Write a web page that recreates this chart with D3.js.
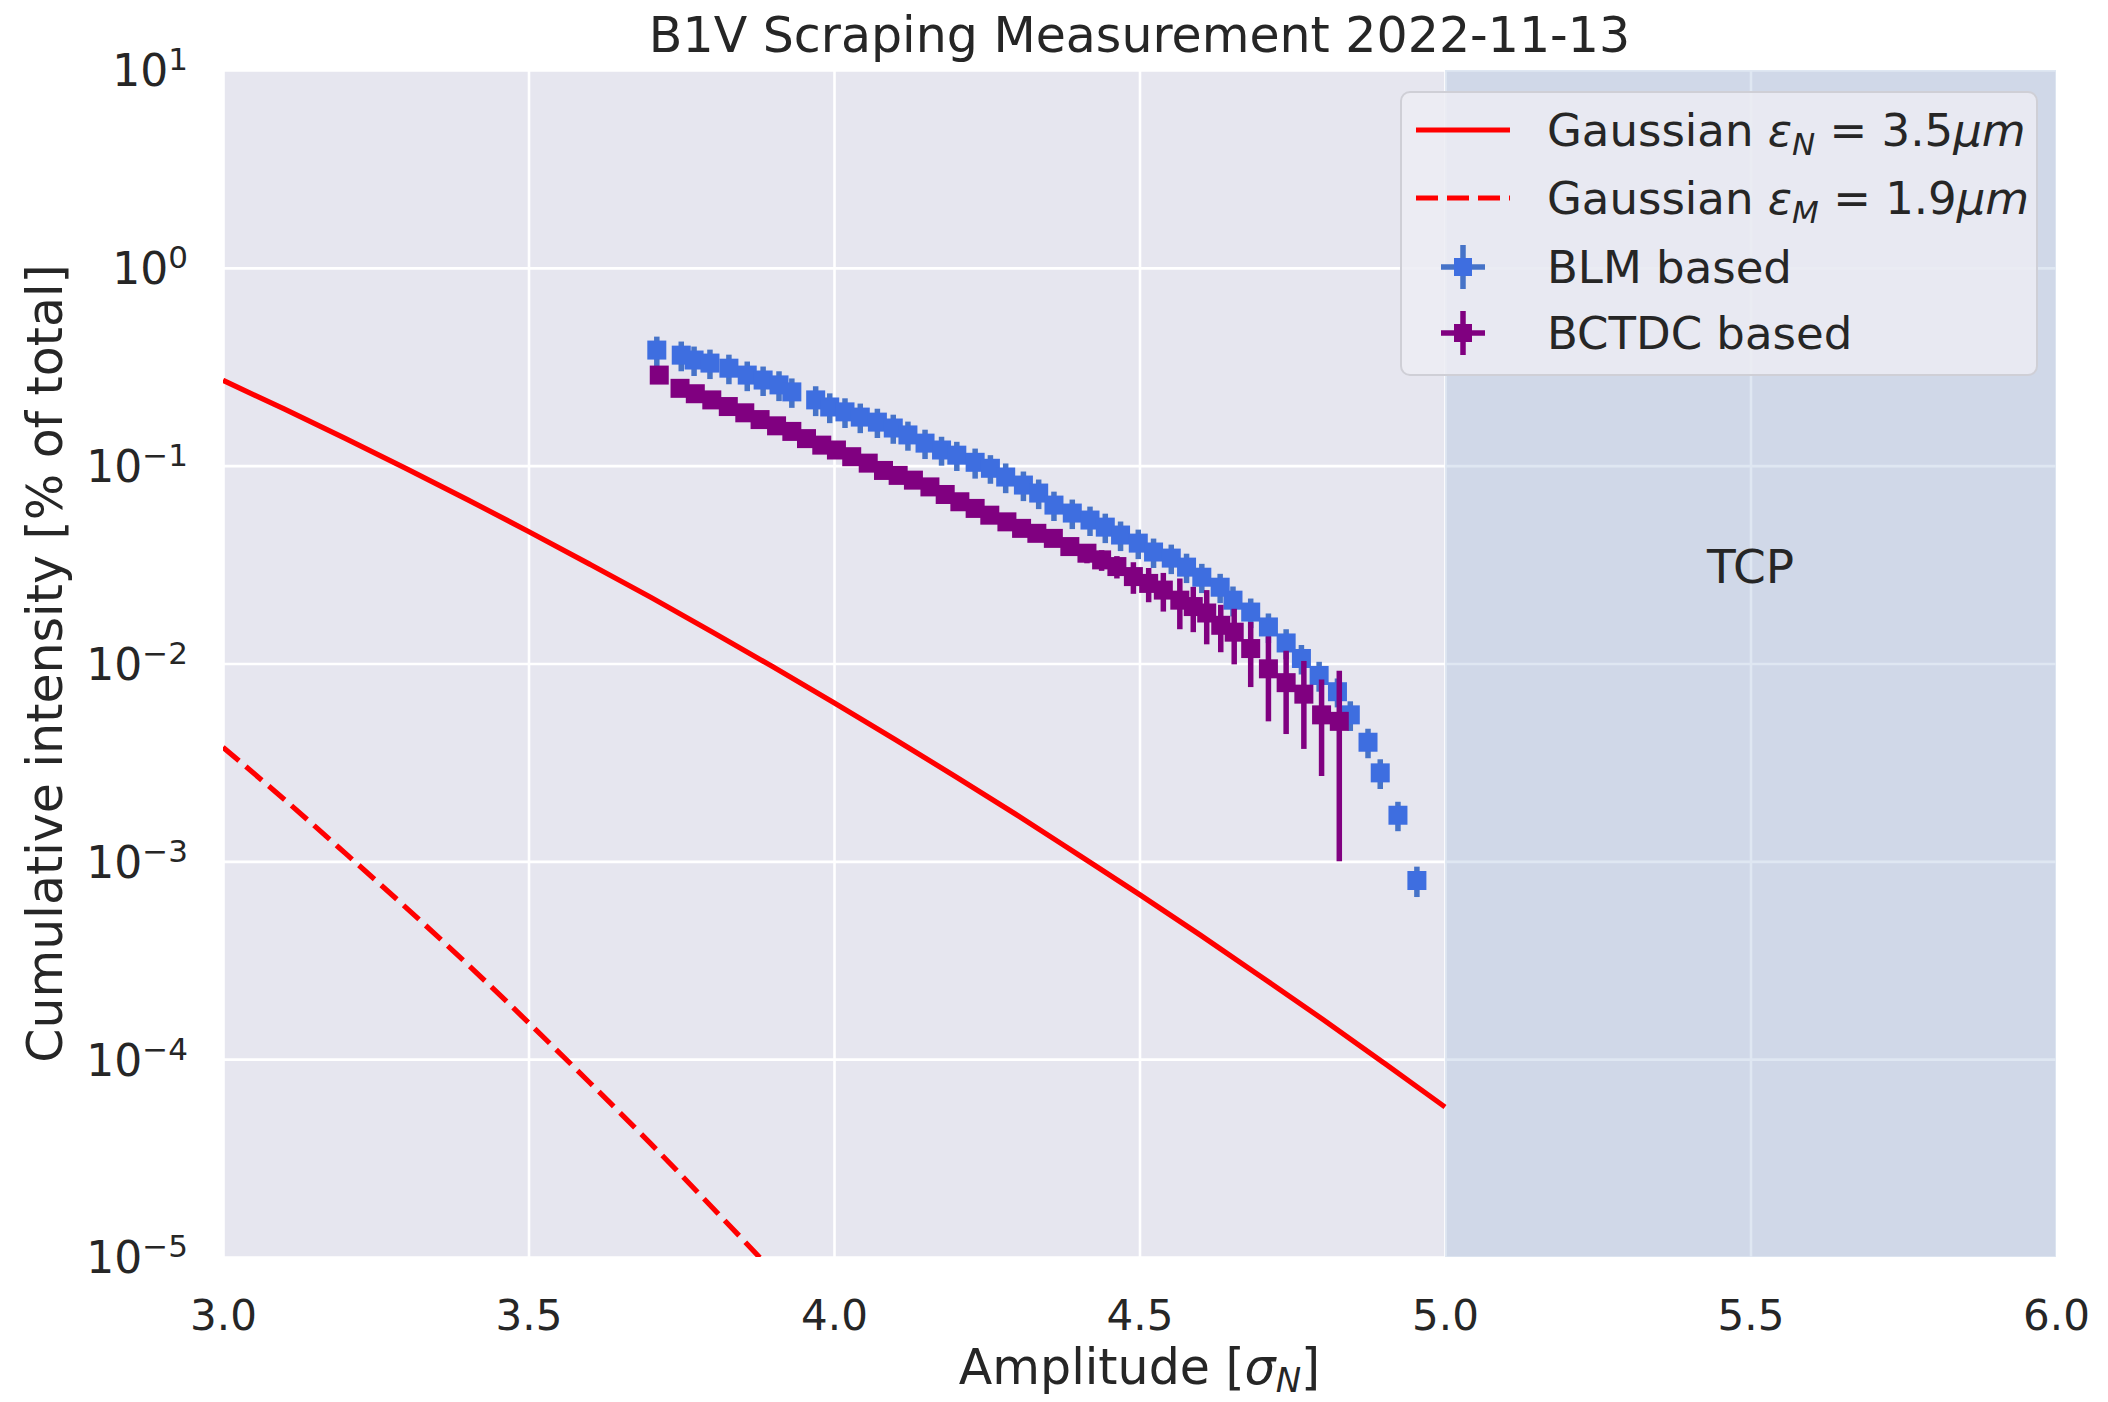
<!DOCTYPE html>
<html>
<head>
<meta charset="utf-8">
<script src="https://cdn.jsdelivr.net/npm/d3@7"></script>
<style>
  html, body { margin: 0; padding: 0; background: #ffffff; }
  svg { display: block; font-family: "DejaVu Sans", sans-serif; }
</style>
</head>
<body>
<svg id="chart" width="2108" height="1402"></svg>
<script>
// ---- values ----
const xTickValues = [3.0, 3.5, 4.0, 4.5, 5.0, 5.5, 6.0];
const yTickExponents = [-5, -4, -3, -2, -1, 0, 1];

// Gaussian, eps_N = 3.5 um (solid)
const gaussNX = [3.0, 3.1, 3.2, 3.3, 3.4, 3.5, 3.6, 3.7, 3.8, 3.9, 4.0,
                 4.1, 4.2, 4.3, 4.4, 4.5, 4.6, 4.7, 4.8, 4.9, 5.0];
const gaussNY = [0.270, 0.1936, 0.1374, 0.0967, 0.0674, 0.0465, 0.0318, 0.0216, 0.01447, 0.00962, 0.00633,
                 0.00413, 0.00267, 0.00171, 0.00108, 0.00068, 0.000423, 0.00026, 0.000159, 0.0000958, 0.0000573];

// Gaussian, eps_M = 1.9 um (dashed)
const gaussMX = [3.0, 3.1, 3.2, 3.3, 3.4, 3.5, 3.6, 3.7, 3.8, 3.9];
const gaussMY = [0.00377, 0.00206, 0.00110, 0.000582, 0.000302, 0.000153, 0.0000762, 0.0000374, 0.0000179, 0.00000846];

// BLM based
const blmX = [3.710, 3.750, 3.771, 3.797, 3.828, 3.858, 3.884, 3.910, 3.931, 3.970,
              3.993, 4.018, 4.043, 4.071, 4.097, 4.121, 4.149, 4.176, 4.201, 4.231,
              4.256, 4.281, 4.310, 4.335, 4.360, 4.390, 4.419, 4.444, 4.469, 4.498,
              4.523, 4.552, 4.577, 4.602, 4.632, 4.653, 4.682, 4.711, 4.740, 4.765,
              4.794, 4.824, 4.845, 4.874, 4.894, 4.923, 4.954];
const blmY = [0.384, 0.362, 0.342, 0.330, 0.311, 0.287, 0.271, 0.256, 0.236, 0.215,
              0.198, 0.187, 0.176, 0.166, 0.155, 0.143, 0.130, 0.120, 0.113, 0.104,
              0.097, 0.0876, 0.0798, 0.0727, 0.0632, 0.0576, 0.0531, 0.0489, 0.0446, 0.0406,
              0.0366, 0.0341, 0.0307, 0.0273, 0.0243, 0.0209, 0.0182, 0.0153, 0.0127, 0.0106,
              0.0087, 0.0072, 0.0055, 0.0040, 0.0028, 0.00171, 0.00080];
const blmErr = [0.065, 0.062, 0.058, 0.056, 0.053, 0.049, 0.046, 0.044, 0.040, 0.037,
                0.034, 0.032, 0.030, 0.028, 0.026, 0.024, 0.022, 0.020, 0.019, 0.018,
                0.016, 0.015, 0.0136, 0.0124, 0.0107, 0.0098, 0.0090, 0.0083, 0.0076, 0.0069,
                0.0062, 0.0058, 0.0052, 0.0046, 0.0041, 0.0036, 0.0031, 0.0026, 0.0022, 0.0018,
                0.0015, 0.0012, 0.00094, 0.00068, 0.00048, 0.00029, 0.00014];

// BCTDC based
const bctX = [3.714, 3.748, 3.773, 3.800, 3.827, 3.854, 3.879, 3.906, 3.931, 3.955,
              3.980, 4.004, 4.029, 4.056, 4.081, 4.105, 4.130, 4.157, 4.182, 4.206,
              4.231, 4.255, 4.283, 4.307, 4.332, 4.359, 4.386, 4.414, 4.438, 4.463,
              4.490, 4.515, 4.539, 4.566, 4.588, 4.610, 4.633, 4.655, 4.682, 4.711,
              4.740, 4.769, 4.798, 4.827];
const bctY = [0.287, 0.246, 0.231, 0.215, 0.199, 0.185, 0.171, 0.159, 0.149, 0.137,
              0.127, 0.120, 0.111, 0.103, 0.0946, 0.0893, 0.0845, 0.0781, 0.0715, 0.0657,
              0.0608, 0.0562, 0.0520, 0.0482, 0.0455, 0.0429, 0.0390, 0.0361, 0.0334, 0.0309,
              0.0275, 0.0254, 0.0235, 0.0209, 0.0194, 0.0180, 0.0156, 0.0144, 0.0119, 0.0094,
              0.0080, 0.0070, 0.0055, 0.0051];
const bctErr = [0.003, 0.003, 0.003, 0.003, 0.003, 0.003, 0.003, 0.003, 0.003, 0.003,
                0.003, 0.003, 0.003, 0.003, 0.003, 0.003, 0.003, 0.003, 0.003, 0.003,
                0.004, 0.004, 0.004, 0.004, 0.004, 0.004, 0.004, 0.004, 0.004, 0.004,
                0.0050, 0.0050, 0.0052, 0.0060, 0.0050, 0.0055, 0.0042, 0.0045, 0.0043, 0.0043,
                0.0036, 0.0033, 0.0028, 0.0041];

const xErrHalfBin = 0.0125;   // horizontal error of both data sets
const tcpRange = [5.0, 6.0];
const tcpLabelPos = [5.5, 0.031];

// ---- layout ----
const plot = { left: 223, top: 70, right: 2056, bottom: 1257 };
const textColor = "#262626";
const markerSize = 19;

const svg = d3.select("#chart");

const x = d3.scaleLinear().domain([3, 6]).range([plot.left, plot.right]);
const y = d3.scaleLog().domain([1e-5, 10]).range([plot.bottom, plot.top]);

// Axes background
svg.append("rect")
  .attr("x", plot.left).attr("y", plot.top)
  .attr("width", plot.right - plot.left)
  .attr("height", plot.bottom - plot.top)
  .attr("fill", "#e6e6ef");

// Grid lines (white, seaborn darkgrid look)
svg.append("g")
  .attr("transform", `translate(0,${plot.bottom})`)
  .call(d3.axisBottom(x).tickValues(xTickValues).tickSize(-(plot.bottom - plot.top)).tickFormat(""))
  .call(g => {
    g.select(".domain").remove();
    g.selectAll("line").attr("stroke", "#ffffff").attr("stroke-width", 2.6);
  });

svg.append("g")
  .attr("transform", `translate(${plot.left},0)`)
  .call(d3.axisLeft(y).tickValues(yTickExponents.map(e => Math.pow(10, e))).tickSize(-(plot.right - plot.left)).tickFormat(""))
  .call(g => {
    g.select(".domain").remove();
    g.selectAll("line").attr("stroke", "#ffffff").attr("stroke-width", 2.6);
  });

// Clip everything inside the axes
svg.append("clipPath").attr("id", "plot-clip")
  .append("rect")
  .attr("x", plot.left).attr("y", plot.top)
  .attr("width", plot.right - plot.left)
  .attr("height", plot.bottom - plot.top);

const area = svg.append("g").attr("clip-path", "url(#plot-clip)");

// TCP shaded span
area.append("rect")
  .attr("x", x(tcpRange[0]))
  .attr("y", plot.top)
  .attr("width", x(tcpRange[1]) - x(tcpRange[0]))
  .attr("height", plot.bottom - plot.top)
  .attr("fill", "#b0c4de")
  .attr("opacity", 0.4);

area.append("text")
  .attr("x", x(tcpLabelPos[0]))
  .attr("y", y(tcpLabelPos[1]))
  .attr("dy", "0.36em")
  .attr("text-anchor", "middle")
  .attr("font-size", 47)
  .attr("fill", textColor)
  .text("TCP");

// Gaussian curves
const line = d3.line()
  .x(d => x(d[0]))
  .y(d => y(d[1]))
  .curve(d3.curveMonotoneX);

area.append("path")
  .datum(d3.zip(gaussNX, gaussNY))
  .attr("d", line)
  .attr("fill", "none")
  .attr("stroke", "#ff0000")
  .attr("stroke-width", 5.2);

area.append("path")
  .datum(d3.zip(gaussMX, gaussMY))
  .attr("d", line)
  .attr("fill", "none")
  .attr("stroke", "#ff0000")
  .attr("stroke-width", 5.2)
  .attr("stroke-dasharray", "21,9");

// Error bar series: error lines first, then the square markers
function drawErrorSeries(xs, ys, errs, markerColor, errColor) {
  const pts = xs.map((v, i) => ({ x: v, y: ys[i], e: errs[i] || 0 }));
  const g = area.append("g");

  g.selectAll("line.yerr")
    .data(pts)
    .enter()
    .append("line")
    .attr("class", "yerr")
    .attr("x1", d => x(d.x))
    .attr("x2", d => x(d.x))
    .attr("y1", d => d.y - d.e > 0 ? y(d.y - d.e) : plot.bottom + 10)
    .attr("y2", d => y(d.y + d.e))
    .attr("stroke", errColor)
    .attr("stroke-width", 5.5);

  g.selectAll("line.xerr")
    .data(pts)
    .enter()
    .append("line")
    .attr("class", "xerr")
    .attr("x1", d => x(d.x - xErrHalfBin))
    .attr("x2", d => x(d.x + xErrHalfBin))
    .attr("y1", d => y(d.y))
    .attr("y2", d => y(d.y))
    .attr("stroke", errColor)
    .attr("stroke-width", 5.5);

  g.selectAll("rect")
    .data(pts)
    .enter()
    .append("rect")
    .attr("x", d => x(d.x) - markerSize / 2)
    .attr("y", d => y(d.y) - markerSize / 2)
    .attr("width", markerSize)
    .attr("height", markerSize)
    .attr("fill", markerColor);
}

drawErrorSeries(blmX, blmY, blmErr, "#3e6ee0", "#4673c8");
drawErrorSeries(bctX, bctY, bctErr, "#800080", "#800080");

// Tick labels
svg.append("g")
  .attr("transform", `translate(0,${plot.bottom})`)
  .call(d3.axisBottom(x).tickValues(xTickValues).tickSize(0).tickPadding(43).tickFormat(d3.format(".1f")))
  .call(g => {
    g.select(".domain").remove();
    g.selectAll("text")
      .attr("font-family", "DejaVu Sans")
      .attr("font-size", 42)
      .attr("fill", textColor);
  });

svg.append("g")
  .attr("transform", `translate(${plot.left},0)`)
  .call(d3.axisLeft(y).tickValues(yTickExponents.map(e => Math.pow(10, e))).tickSize(0).tickPadding(35).tickFormat(""))
  .call(g => {
    g.select(".domain").remove();
    g.selectAll(".tick text").each(function(d) {
      const exp = Math.round(Math.log10(d));
      const t = d3.select(this)
        .attr("font-family", "DejaVu Sans")
        .attr("font-size", 44)
        .attr("fill", textColor)
        .attr("dy", "0.36em");
      t.append("tspan").text("10");
      t.append("tspan")
        .attr("dy", -16)
        .attr("font-size", 31)
        .text(exp < 0 ? "\u2212" + Math.abs(exp) : String(exp));
    });
  });

// Title and axis labels
svg.append("text")
  .attr("x", (plot.left + plot.right) / 2)
  .attr("y", 52)
  .attr("text-anchor", "middle")
  .attr("font-size", 49)
  .attr("fill", textColor)
  .text("B1V Scraping Measurement 2022-11-13");

const xLabel = svg.append("text")
  .attr("x", (plot.left + plot.right) / 2)
  .attr("y", 1384)
  .attr("text-anchor", "middle")
  .attr("font-size", 49)
  .attr("fill", textColor);
xLabel.append("tspan").text("Amplitude [");
xLabel.append("tspan").attr("font-style", "italic").text("\u03C3");
xLabel.append("tspan").attr("font-style", "italic").attr("font-size", 34).attr("dy", 8).text("N");
xLabel.append("tspan").attr("dy", -8).text("]");

svg.append("text")
  .attr("transform", `translate(62,${(plot.top + plot.bottom) / 2}) rotate(-90)`)
  .attr("text-anchor", "middle")
  .attr("font-size", 49)
  .attr("fill", textColor)
  .text("Cumulative intensity [% of total]");

// Legend
const legendBox = { x: 1401, y: 92, w: 636, h: 283 };
const legendRows = [130, 198, 267, 333];
const legend = svg.append("g");

legend.append("rect")
  .attr("x", legendBox.x).attr("y", legendBox.y)
  .attr("width", legendBox.w).attr("height", legendBox.h)
  .attr("rx", 9)
  .attr("fill", "#ececf3")
  .attr("fill-opacity", 0.85)
  .attr("stroke", "#cfcfd6")
  .attr("stroke-width", 2);

// line handles
legend.append("line")
  .attr("x1", 1416).attr("x2", 1510)
  .attr("y1", legendRows[0]).attr("y2", legendRows[0])
  .attr("stroke", "#ff0000").attr("stroke-width", 5.2);
legend.append("line")
  .attr("x1", 1416).attr("x2", 1510)
  .attr("y1", legendRows[1]).attr("y2", legendRows[1])
  .attr("stroke", "#ff0000").attr("stroke-width", 5.2)
  .attr("stroke-dasharray", "22,9");

// errorbar handles
[[legendRows[2], "#3e6ee0", "#4673c8"], [legendRows[3], "#800080", "#800080"]].forEach(([cy, mc, ec]) => {
  const cx = 1463;
  legend.append("line").attr("x1", cx).attr("x2", cx).attr("y1", cy - 22).attr("y2", cy + 22)
    .attr("stroke", ec).attr("stroke-width", 5.5);
  legend.append("line").attr("x1", cx - 22).attr("x2", cx + 22).attr("y1", cy).attr("y2", cy)
    .attr("stroke", ec).attr("stroke-width", 5.5);
  legend.append("rect").attr("x", cx - 9).attr("y", cy - 9).attr("width", 18).attr("height", 18)
    .attr("fill", mc);
});

function mathLabel(row, parts) {
  const t = legend.append("text")
    .attr("x", 1547)
    .attr("y", row + 16)
    .attr("font-size", 45)
    .attr("fill", textColor);
  let shift = 0;
  parts.forEach(p => {
    const s = t.append("tspan").text(p.t);
    if (p.i) s.attr("font-style", "italic");
    const want = p.sub ? 9 : 0;
    if (want !== shift) { s.attr("dy", want - shift); shift = want; }
    if (p.sub) s.attr("font-size", 31);
  });
}

mathLabel(legendRows[0], [{ t: "Gaussian " }, { t: "\u03B5", i: true }, { t: "N", i: true, sub: true },
  { t: " = 3.5" }, { t: "\u03BCm", i: true }]);
mathLabel(legendRows[1], [{ t: "Gaussian " }, { t: "\u03B5", i: true }, { t: "M", i: true, sub: true },
  { t: " = 1.9" }, { t: "\u03BCm", i: true }]);
mathLabel(legendRows[2], [{ t: "BLM based" }]);
mathLabel(legendRows[3], [{ t: "BCTDC based" }]);
</script>
</body>
</html>
